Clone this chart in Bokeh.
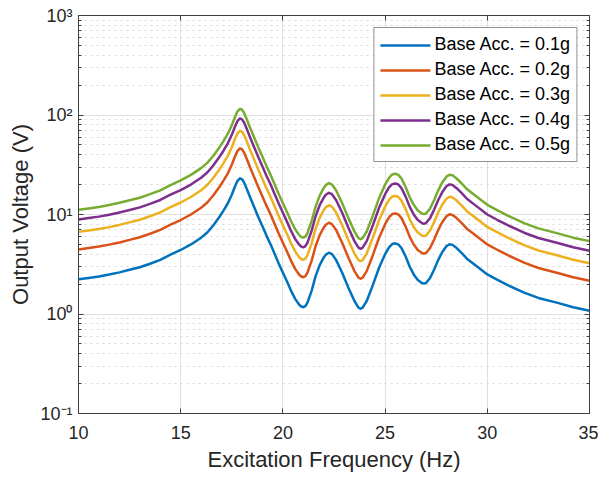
from bokeh.plotting import figure
from bokeh.models import Range1d, LinearAxis, LogAxis, FixedTicker, Legend, LegendItem, LogTicker
from bokeh.embed import file_html
from bokeh.resources import INLINE

freq = [10, 10.5, 11, 11.5, 12, 12.5, 13, 13.5, 14, 14.5,
        15, 15.5, 16, 16.3, 16.6, 16.9, 17.1, 17.3, 17.5, 17.65,
        17.78, 17.9, 18.0, 18.1, 18.2, 18.4, 18.6, 18.8, 19.0, 19.2,
        19.4, 19.6, 19.8, 20.0, 20.2, 20.4, 20.6, 20.8, 20.9, 21.0,
        21.1, 21.2, 21.4, 21.6, 21.8, 22.0, 22.1, 22.25, 22.4, 22.6,
        22.9, 23.2, 23.5, 23.7, 23.8, 23.9, 24.1, 24.4, 24.7, 25.0,
        25.2, 25.35, 25.5, 25.65, 25.8, 26.0, 26.2, 26.4, 26.6, 26.8,
        26.9, 27.0, 27.2, 27.4, 27.6, 27.8, 28.0, 28.15, 28.3, 28.5,
        28.75, 29.0, 29.5, 30.0, 30.5, 31.0, 31.8, 32.5, 33.4, 34.2,
        35.0]

acc_01 = [2.23, 2.3, 2.38, 2.49, 2.62, 2.78, 2.95, 3.2, 3.5, 3.95,
          4.4, 5.0, 5.85, 6.6, 7.8, 9.5, 11.0, 12.9, 15.8, 19.0,
          21.8, 23.1, 22.6, 21.0, 18.8, 14.8, 11.8, 9.4, 7.6, 6.1,
          5.0, 4.0, 3.2, 2.6, 2.12, 1.71, 1.42, 1.24, 1.19, 1.17,
          1.2, 1.3, 1.7, 2.4, 3.1, 3.7, 3.95, 4.13, 4.0, 3.5,
          2.6, 1.85, 1.35, 1.16, 1.13, 1.16, 1.35, 1.95, 2.9, 4.0,
          4.7, 5.05, 5.13, 5.0, 4.6, 3.8, 3.0, 2.5, 2.2, 2.05,
          2.02, 2.05, 2.3, 2.8, 3.5, 4.2, 4.8, 5.02, 4.95, 4.6,
          4.1, 3.6, 3.0, 2.5, 2.2, 1.95, 1.64, 1.45, 1.3, 1.17,
          1.08]

acc_02 = [4.46, 4.6, 4.76, 4.98, 5.24, 5.56, 5.9, 6.4, 7.0, 7.9,
          8.8, 10.0, 11.7, 13.2, 15.6, 19.0, 22.0, 25.8, 31.6, 38.0,
          43.6, 46.2, 45.2, 42.0, 37.6, 29.6, 23.6, 18.8, 15.2, 12.2,
          10.0, 8.0, 6.4, 5.2, 4.24, 3.42, 2.84, 2.48, 2.38, 2.34,
          2.4, 2.6, 3.4, 4.8, 6.2, 7.4, 7.9, 8.26, 8.0, 7.0,
          5.2, 3.7, 2.7, 2.32, 2.26, 2.32, 2.7, 3.9, 5.8, 8.0,
          9.4, 10.1, 10.26, 10.0, 9.2, 7.6, 6.0, 5.0, 4.4, 4.1,
          4.04, 4.1, 4.6, 5.6, 7.0, 8.4, 9.6, 10.04, 9.9, 9.2,
          8.2, 7.2, 6.0, 5.0, 4.4, 3.9, 3.28, 2.9, 2.6, 2.34,
          2.16]

acc_03 = [6.69, 6.9, 7.14, 7.47, 7.86, 8.34, 8.85, 9.6, 10.5, 11.85,
          13.2, 15.0, 17.55, 19.8, 23.4, 28.5, 33.0, 38.7, 47.4, 57.0,
          65.4, 69.3, 67.8, 63.0, 56.4, 44.4, 35.4, 28.2, 22.8, 18.3,
          15.0, 12.0, 9.6, 7.8, 6.36, 5.13, 4.26, 3.72, 3.57, 3.51,
          3.6, 3.9, 5.1, 7.2, 9.3, 11.1, 11.85, 12.39, 12.0, 10.5,
          7.8, 5.55, 4.05, 3.48, 3.39, 3.48, 4.05, 5.85, 8.7, 12.0,
          14.1, 15.15, 15.39, 15.0, 13.8, 11.4, 9.0, 7.5, 6.6, 6.15,
          6.06, 6.15, 6.9, 8.4, 10.5, 12.6, 14.4, 15.06, 14.85, 13.8,
          12.3, 10.8, 9.0, 7.5, 6.6, 5.85, 4.92, 4.35, 3.9, 3.51,
          3.24]

acc_04 = [8.92, 9.2, 9.52, 9.96, 10.48, 11.12, 11.8, 12.8, 14.0, 15.8,
          17.6, 20.0, 23.4, 26.4, 31.2, 38.0, 44.0, 51.6, 63.2, 76.0,
          87.2, 92.4, 90.4, 84.0, 75.2, 59.2, 47.2, 37.6, 30.4, 24.4,
          20.0, 16.0, 12.8, 10.4, 8.48, 6.84, 5.68, 4.96, 4.76, 4.68,
          4.8, 5.2, 6.8, 9.6, 12.4, 14.8, 15.8, 16.52, 16.0, 14.0,
          10.4, 7.4, 5.4, 4.64, 4.52, 4.64, 5.4, 7.8, 11.6, 16.0,
          18.8, 20.2, 20.52, 20.0, 18.4, 15.2, 12.0, 10.0, 8.8, 8.2,
          8.08, 8.2, 9.2, 11.2, 14.0, 16.8, 19.2, 20.08, 19.8, 18.4,
          16.4, 14.4, 12.0, 10.0, 8.8, 7.8, 6.56, 5.8, 5.2, 4.68,
          4.32]

acc_05 = [11.15, 11.5, 11.9, 12.45, 13.1, 13.9, 14.75, 16.0, 17.5, 19.75,
          22.0, 25.0, 29.25, 33.0, 39.0, 47.5, 55.0, 64.5, 79.0, 95.0,
          109.0, 115.5, 113.0, 105.0, 94.0, 74.0, 59.0, 47.0, 38.0, 30.5,
          25.0, 20.0, 16.0, 13.0, 10.6, 8.55, 7.1, 6.2, 5.95, 5.85,
          6.0, 6.5, 8.5, 12.0, 15.5, 18.5, 19.75, 20.65, 20.0, 17.5,
          13.0, 9.25, 6.75, 5.8, 5.65, 5.8, 6.75, 9.75, 14.5, 20.0,
          23.5, 25.25, 25.65, 25.0, 23.0, 19.0, 15.0, 12.5, 11.0, 10.25,
          10.1, 10.25, 11.5, 14.0, 17.5, 21.0, 24.0, 25.1, 24.75, 23.0,
          20.5, 18.0, 15.0, 12.5, 11.0, 9.75, 8.2, 7.25, 6.5, 5.85,
          5.4]

labels = ["Base Acc. = 0.1g", "Base Acc. = 0.2g", "Base Acc. = 0.3g", "Base Acc. = 0.4g", "Base Acc. = 0.5g"]
series = [acc_01, acc_02, acc_03, acc_04, acc_05]
colors = ["#0072BD", "#D95319", "#EDB120", "#7E2F8E", "#77AC30"]

x_ticks = [10, 15, 20, 25, 30, 35]
y_tick_labels = {0.1: "10\u207b\u00b9", 1: "10\u2070", 10: "10\u00b9", 100: "10\u00b2", 1000: "10\u00b3"}

FONT = "Liberation Sans"
TXT = "#262626"
AX = "#404040"

p = figure(width=598, height=477, output_backend="svg", toolbar_location=None,
           y_axis_type="log", x_range=Range1d(10, 35), y_range=Range1d(0.1, 1000),
           min_border_left=78, min_border_right=9, min_border_top=15, min_border_bottom=64)
p.outline_line_color = AX
p.outline_line_width = 1
p.background_fill_color = "white"
p.border_fill_color = "white"

renderers = []
for ys, c in zip(series, colors):
    r = p.line(freq, ys, line_color=c, line_width=2.5, line_join="round", line_cap="round")
    renderers.append(r)

xa = p.xaxis[0]
xa.ticker = FixedTicker(ticks=x_ticks)
ya = p.yaxis[0]
ya.ticker = LogTicker(desired_num_ticks=5, num_minor_ticks=10)
ya.major_label_overrides = {k: v for k, v in y_tick_labels.items()}
for ax in (xa, ya):
    ax.axis_line_color = AX
    ax.major_tick_line_color = AX
    ax.minor_tick_line_color = AX
    ax.major_tick_in = 5
    ax.major_tick_out = 0
    ax.minor_tick_in = 3
    ax.minor_tick_out = 0
    ax.major_label_text_font = FONT
    ax.major_label_text_font_size = "18px"
    ax.major_label_text_color = TXT
    ax.axis_label_text_font = FONT
    ax.axis_label_text_font_size = "22px"
    ax.axis_label_text_font_style = "normal"
    ax.axis_label_text_color = TXT
xa.minor_tick_line_color = None
xa.axis_label = "Excitation Frequency (Hz)"
ya.axis_label = "Output Voltage (V)"
xa.major_label_standoff = 12
ya.major_label_standoff = 6
xa.axis_label_standoff = 5
ya.axis_label_standoff = 4

top = LinearAxis(ticker=FixedTicker(ticks=x_ticks), major_label_text_font_size="0px",
                 axis_line_color=AX, major_tick_line_color=AX, minor_tick_line_color=None,
                 major_tick_in=5, major_tick_out=0)
top.major_label_text_color = None
p.add_layout(top, "above")
right = LogAxis(ticker=LogTicker(desired_num_ticks=5, num_minor_ticks=10), major_label_text_font_size="0px",
                axis_line_color=AX, major_tick_line_color=AX, minor_tick_line_color=AX,
                major_tick_in=5, major_tick_out=0, minor_tick_in=3, minor_tick_out=0)
right.major_label_text_color = None
p.add_layout(right, "right")

p.xgrid.ticker = FixedTicker(ticks=x_ticks)
p.xgrid.grid_line_color = "#e0e0e0"
p.ygrid.grid_line_color = "#e0e0e0"
p.ygrid.minor_grid_line_color = "#d8d8d8"
p.ygrid.minor_grid_line_dash = "dotted"

legend = Legend(items=[LegendItem(label=l, renderers=[r]) for l, r in zip(labels, renderers)],
                location="top_right")
legend.label_text_font = FONT
legend.label_text_font_size = "18px"
legend.label_text_color = "#000000"
legend.glyph_width = 50
legend.glyph_height = 20
legend.label_height = 20
legend.spacing = 4
legend.padding = 6
legend.margin = 12
legend.label_standoff = 4
legend.border_line_color = "#262626"
legend.border_line_width = 1
legend.background_fill_alpha = 1.0
p.add_layout(legend, "center")

open("out.html", "w").write(file_html(p, INLINE))
